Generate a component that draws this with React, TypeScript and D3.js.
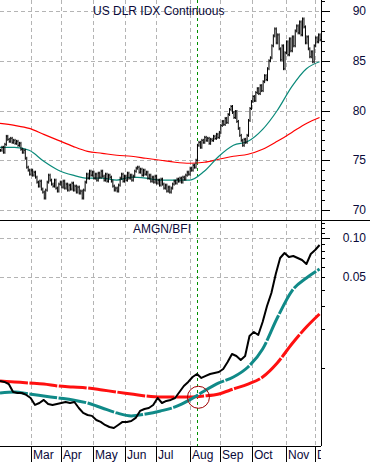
import React from "react";
import * as d3 from "d3";

const W = 370;
const H = 462;
const plotRight = 321;
const splitY = 220;
const axisY = 446;

// trading days (weekdays) from Feb 1 2008
const startDate = new Date(2008, 1, 1);
const dayCount = 220;

// US dollar index, daily closes
const dlrClose = [
    76.0, 76.3, 75.8, 76.6, 77.4, 77.1, 76.9, 77.2, 76.8, 77.0,
    76.7, 76.9, 76.5, 76.7, 76.1, 75.8, 76.0, 75.2, 74.3, 74.0,
    73.6, 74.0, 73.5, 73.8, 73.3, 72.8, 72.4, 72.9, 72.1, 71.8,
    71.2, 72.0, 72.8, 73.5, 73.0, 72.6, 72.4, 73.0, 72.2, 71.9,
    72.6, 72.8, 72.3, 72.9, 72.2, 72.6, 72.0, 72.5, 72.1, 72.7,
    72.0, 72.4, 71.8, 72.3, 71.7, 71.9, 71.2, 72.0, 72.8, 73.6,
    73.2, 73.9, 73.5, 73.8, 73.2, 73.6, 73.0, 73.7, 73.3, 73.9,
    73.4, 73.0, 73.6, 72.9, 73.5, 73.3, 72.9, 72.4, 72.0, 72.2,
    71.9, 72.5, 73.2, 73.6, 72.9, 73.4, 73.0, 73.7, 73.2, 73.5,
    73.0, 73.4, 73.9, 74.2, 74.3, 73.8, 74.1, 73.5, 74.0, 73.6,
    73.8, 73.2, 73.5, 72.9, 73.3, 72.8, 73.4, 72.7, 73.0, 72.5,
    73.1, 72.6, 72.2, 72.5, 71.9, 72.3, 71.8, 72.2, 72.6, 72.9,
    72.7, 73.1, 72.9, 73.2, 72.8, 73.3, 73.1, 73.5, 73.8, 73.6,
    74.2, 74.0, 74.5, 74.3, 75.0, 76.5, 76.8, 76.3, 77.0, 76.8,
    77.3, 77.0, 77.2, 76.7, 77.1, 77.0, 77.4, 77.2, 77.6, 77.3,
    77.8, 78.5, 78.9, 78.6, 79.2, 78.8, 79.6, 80.1, 80.4, 79.8,
    79.3, 79.9, 78.9, 78.2, 77.5, 77.0, 76.5, 77.1, 76.8, 77.5,
    79.0, 80.2, 80.9, 81.4, 81.0, 81.8, 82.2, 81.7, 82.5, 82.0,
    82.9, 83.5, 83.1, 84.2, 85.0, 85.3, 86.5, 87.5, 88.2, 86.8,
    87.6, 86.2, 85.1, 86.5, 84.2, 85.8, 86.9, 85.6, 87.2, 86.0,
    87.4, 86.5, 88.0, 88.5, 87.8, 88.9, 87.6, 89.2, 88.4, 86.8,
    87.4, 86.2, 85.4, 85.9, 84.9, 86.5, 87.3, 86.9, 87.6, 87.1,
];

// moving averages, one value every 10 trading days (last = final day)
const dlrMaFast = [
    76.3, 76.3, 76.0, 74.9, 74.0, 73.5, 73.2, 73.2, 73.0, 73.3, 73.2, 73.0,
    73.0, 73.0, 73.9, 75.4, 76.5, 76.9, 78.1, 80.0, 82.4, 84.2, 84.9,
];
const dlrMaSlow = [
    78.7, 78.5, 78.2, 77.6, 77.0, 76.4, 75.9, 75.7, 75.5, 75.4, 75.2, 75.0,
    74.8, 74.7, 74.8, 75.1, 75.4, 75.6, 76.1, 76.9, 77.8, 78.7, 79.3,
];

// AMGN/BFI ratio, one value every 3 trading days
const ratioLine = [
    0.00789, 0.00775, 0.00747, 0.00648, 0.00637, 0.00637, 0.00615, 0.00583,
    0.00515, 0.00533, 0.00563, 0.00524, 0.00515, 0.00524, 0.00533, 0.00543,
    0.00533, 0.00543, 0.00488, 0.00447, 0.00431, 0.00424, 0.00394, 0.00381,
    0.00361, 0.00348, 0.00342, 0.00361, 0.00381, 0.00381, 0.00387, 0.00409,
    0.00463, 0.00479, 0.00488, 0.00515, 0.00583, 0.00533, 0.00553, 0.00563,
    0.00583, 0.00648, 0.00721, 0.00775, 0.00846, 0.00893, 0.00832, 0.00862,
    0.00893, 0.00909, 0.00925, 0.00976, 0.01105, 0.01273, 0.01229, 0.01145,
    0.01229, 0.01753, 0.01882, 0.01785, 0.02249, 0.02987, 0.03763, 0.05274,
    0.07007, 0.07658, 0.07132, 0.0726, 0.07007, 0.06762, 0.06298, 0.07523,
    0.08077, 0.08828,
];
const ratioMaFast = [
    0.00637, 0.00648, 0.00626, 0.00604, 0.00583, 0.00563, 0.00533, 0.00488,
    0.00447, 0.00424, 0.00439, 0.00463, 0.00497, 0.00563, 0.0066, 0.00761,
    0.00846, 0.01011, 0.01392, 0.02414, 0.03899, 0.04912, 0.05763,
];
const ratioMaSlow = [
    0.00789, 0.00775, 0.00761, 0.00747, 0.00721, 0.00709, 0.00696, 0.00672,
    0.00648, 0.00626, 0.00604, 0.00593, 0.00593, 0.00593, 0.00604, 0.00626,
    0.00684, 0.00747, 0.00846, 0.01086, 0.01521, 0.02057, 0.02592,
];

const topTicks = [70, 75, 80, 85, 90];
const bottomLabelTicks = [0.05, 0.1];
const bottomMinorTicks = [
    0.01, 0.02, 0.03, 0.04, 0.05, 0.06, 0.07, 0.08, 0.09, 0.1, 0.11, 0.12, 0.13,
];
const markerDay = 135; // vertical dashed line
const crossDay = 136; // circled crossover
const crossValue = 0.0059;

const font = "Arial, 'Liberation Sans', sans-serif";
const textColor = "#0a0a3a";
const gridColor = "#b4b4b4";

const days: Date[] = [];
for (let d = new Date(startDate); days.length < dayCount; d = d3.timeDay.offset(d, 1)) {
    if (d.getDay() !== 0 && d.getDay() !== 6) days.push(d);
}
const monthStarts = days
    .map((d, i) => ({ d, i }))
    .filter(({ d, i }) => i > 0 && d.getMonth() !== days[i - 1].getMonth());

const App: React.FC = () => {
    const x = d3.scaleLinear().domain([0, dayCount]).range([0, plotRight]);
    const yTop = d3.scaleLinear().domain([70, 90]).range([210, 11]);
    const yBot = d3.scaleLog().domain([0.01, 0.1]).range([367.6, 238]);

    const maDay = (k: number) => Math.min(k * 10, dayCount - 1);

    const topMa = d3
        .line<number>()
        .x((_, k) => x(maDay(k)))
        .y(d => yTop(d))
        .curve(d3.curveMonotoneX);
    const botMa = d3
        .line<number>()
        .x((_, k) => x(maDay(k)))
        .y(d => yBot(d))
        .curve(d3.curveMonotoneX);
    const ratioPath = d3
        .line<number>()
        .x((_, k) => x(k * 3))
        .y(d => yBot(d));

    const bars = dlrClose.map((c, i) => {
        const prev = i > 0 ? dlrClose[i - 1] : c;
        const hi = Math.max(prev, c) + 0.15;
        const lo = Math.min(prev, c) - 0.15;
        const bx = x(i) + 0.5;
        return (
            <g key={i}>
                <line x1={bx} x2={bx} y1={yTop(hi)} y2={yTop(lo)} />
                <line x1={bx} x2={bx + 1} y1={yTop(c)} y2={yTop(c)} />
            </g>
        );
    });

    const topMinor = d3.range(70, 92);

    return (
        <svg
            width={W}
            height={H}
            style={{ position: "absolute", left: 0, top: 0, background: "#fff" }}
            fontFamily={font}
            fontSize={12}
        >
            <defs>
                <clipPath id="clipTop">
                    <rect x={0} y={0} width={plotRight} height={splitY} />
                </clipPath>
                <clipPath id="clipBot">
                    <rect x={0} y={splitY} width={plotRight} height={axisY - splitY} />
                </clipPath>
                <clipPath id="clipAxis">
                    <rect x={0} y={axisY} width={plotRight} height={H - axisY} />
                </clipPath>
            </defs>

            {/* grid */}
            <g stroke={gridColor} strokeDasharray="4,3" strokeWidth={1}>
                {monthStarts.map(({ i }) => (
                    <line key={i} x1={Math.round(x(i)) + 0.5} x2={Math.round(x(i)) + 0.5} y1={0} y2={axisY} />
                ))}
                {topTicks.map(v => (
                    <line key={v} x1={0} x2={plotRight} y1={Math.round(yTop(v)) + 0.5} y2={Math.round(yTop(v)) + 0.5} />
                ))}
                {bottomLabelTicks.map(v => (
                    <line key={v} x1={0} x2={plotRight} y1={Math.round(yBot(v)) + 0.5} y2={Math.round(yBot(v)) + 0.5} />
                ))}
            </g>

            <line
                x1={Math.round(x(markerDay)) + 0.5}
                x2={Math.round(x(markerDay)) + 0.5}
                y1={0}
                y2={axisY}
                stroke="#009000"
                strokeDasharray="3,3"
            />

            {/* top panel */}
            <g clipPath="url(#clipTop)">
                <path d={topMa(dlrMaSlow) || ""} fill="none" stroke="#ff0000" strokeWidth={1.2} />
                <path d={topMa(dlrMaFast) || ""} fill="none" stroke="#0a8a7a" strokeWidth={1.2} />
                <g stroke="#000" strokeWidth={1}>{bars}</g>
            </g>
            <text x={93} y={15} fill={textColor}>US DLR IDX Continuous</text>

            {/* bottom panel */}
            <g clipPath="url(#clipBot)">
                <path d={botMa(ratioMaSlow) || ""} fill="none" stroke="#ff1010" strokeWidth={3} strokeDasharray="28,1.5" />
                <path d={botMa(ratioMaFast) || ""} fill="none" stroke="#108a88" strokeWidth={3} strokeDasharray="28,1.5" />
                <path d={ratioPath(ratioLine) || ""} fill="none" stroke="#000" strokeWidth={2} strokeLinejoin="round" />
                <circle cx={x(crossDay)} cy={yBot(crossValue)} r={11} fill="none" stroke="#a00000" strokeWidth={1} />
            </g>
            <text x={133} y={233} fill={textColor}>AMGN/BFI</text>

            {/* frame */}
            <line x1={0} x2={W} y1={splitY + 0.5} y2={splitY + 0.5} stroke="#000" />
            <line x1={0} x2={plotRight} y1={axisY + 0.5} y2={axisY + 0.5} stroke="#000" />
            <line x1={plotRight + 0.5} x2={plotRight + 0.5} y1={0} y2={axisY} stroke="#000" />

            {/* right axis ticks */}
            <g stroke="#000">
                {topMinor.map(v => {
                    const y = Math.round(yTop(v)) + 0.5;
                    if (y > splitY) return null;
                    return <line key={v} x1={plotRight} x2={plotRight + (v % 5 === 0 ? 9 : 4)} y1={y} y2={y} />;
                })}
                {bottomMinorTicks.map(v => {
                    const y = Math.round(yBot(v)) + 0.5;
                    if (y < splitY) return null;
                    return <line key={v} x1={plotRight} x2={plotRight + (v === 0.1 ? 9 : 4)} y1={y} y2={y} />;
                })}
            </g>
            <g fill={textColor} textAnchor="end">
                {topTicks.map(v => (
                    <text key={v} x={366} y={yTop(v) + 4}>{v}</text>
                ))}
                {bottomLabelTicks.map(v => (
                    <text key={v} x={366} y={yBot(v) + 4}>{d3.format(".2f")(v)}</text>
                ))}
            </g>

            {/* month axis */}
            <g clipPath="url(#clipAxis)">
                {monthStarts.map(({ d, i }) => (
                    <g key={i}>
                        <line
                            x1={Math.round(x(i)) + 0.5}
                            x2={Math.round(x(i)) + 0.5}
                            y1={axisY}
                            y2={H}
                            stroke="#000"
                        />
                        <text x={Math.round(x(i)) + 2} y={459} fill={textColor}>
                            {d3.timeFormat("%b")(d)}
                        </text>
                    </g>
                ))}
            </g>
        </svg>
    );
};

export default App;
